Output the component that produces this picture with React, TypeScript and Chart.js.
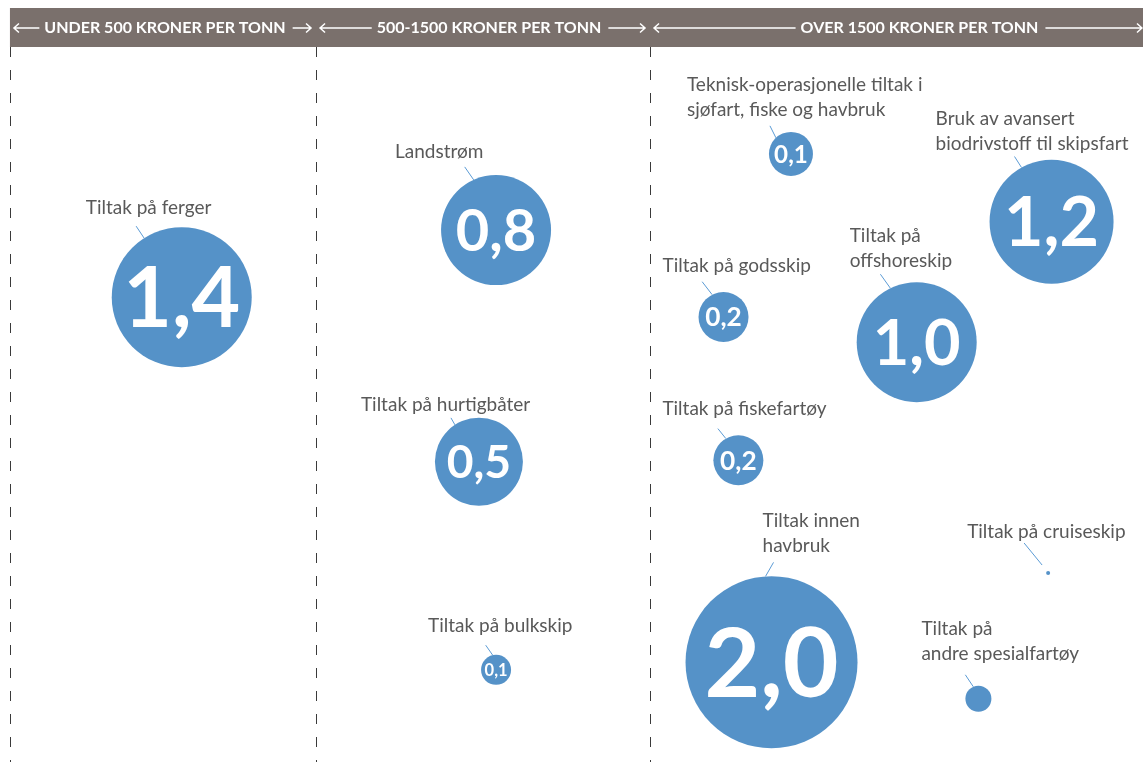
import React, { useEffect, useRef } from "react";
import { Chart, registerables } from "chart.js";

Chart.register(...registerables);

// ---------- data ----------
const measureLabels: string[][] = [
  ["Tiltak på ferger"],
  ["Landstrøm"],
  ["Tiltak på hurtigbåter"],
  ["Tiltak på bulkskip"],
  ["Teknisk-operasjonelle tiltak i", "sjøfart, fiske og havbruk"],
  ["Tiltak på godsskip"],
  ["Tiltak på fiskefartøy"],
  ["Tiltak innen", "havbruk"],
  ["Bruk av avansert", "biodrivstoff til skipsfart"],
  ["Tiltak på", "offshoreskip"],
  ["Tiltak på cruiseskip"],
  ["Tiltak på", "andre spesialfartøy"],
];
// emission reduction shown in each bubble (null = no figure shown)
const reductions: (number | null)[] = [1.4, 0.8, 0.5, 0.1, 0.1, 0.2, 0.2, 2.0, 1.2, 1.0, null, null];
// bubble position on the infographic grid (0-100 each way)
const posX = [15.9, 43.4, 41.9, 43.4, 69.2, 63.3, 64.6, 67.5, 92.0, 80.2, 91.7, 85.6];
const posY = [39.0, 30.2, 60.6, 87.9, 20.2, 41.6, 60.4, 86.9, 29.1, 44.9, 75.2, 91.7];
// bubble size as drawn
const bubbleSizes = [70, 55, 44, 15, 22, 25, 25, 86, 62, 60, 2, 13];
// cost bands
const bandEdges = [0.87, 27.65, 56.87, 100];
const bandLabels = ["UNDER 500 KRONER PER TONN", "500-1500 KRONER PER TONN", "OVER 1500 KRONER PER TONN"];

// ---------- layout / style ----------
const W = 1143;
const H = 762;
const BUBBLE = "#5592c8";
const HEADER = "#7a706c";
const TEXT = "#595959";
const LEADER = "#5b9bd5";
const FONT = "Lato, 'Open Sans', sans-serif";
const headerTextShift = [2, 6, 23];
// label anchor: [dx of left edge, dy of first baseline] relative to bubble centre
const labelOffset: [number, number][] = [
  [-96, -83], [-101, -72], [-118, -51], [-68, -38], [-104, -63], [-61, -45],
  [-76, -45], [-9, -135], [-116, -97], [-67, -100], [-81, -35], [-57, -64],
];
// leader: [angle on circle (deg), dx, dy to start, gap]
const leaders: [number, number, number, number][] = [
  [-122.5, -8, -12, 0], [-114, -9, -13, 0], [-123, -4, -7, 0], [-103, -7, -10, 0],
  [-133, -6, -12, 0], [-117, -10, -13, 0], [-120, -8, -10, 0], [-94, 8, -14, 0],
  [-119, -7, -11, 0], [-116, -10, -14, 0], [-127, -18, -22, 8], [-113, -8, -12, 0],
];
// relative size of the figure inside each bubble
const valueFontScale = [1.2, 1.05, 1.05, 1.1, 1.1, 1.05, 1.05, 1.12, 1.1, 1.05, 1, 1];

function arrowLine(ctx: CanvasRenderingContext2D, x1: number, x2: number, y: number, head: "left" | "right") {
  ctx.beginPath();
  ctx.moveTo(x1, y);
  ctx.lineTo(x2, y);
  const tip = head === "left" ? x1 : x2;
  const s = head === "left" ? 1 : -1;
  ctx.moveTo(tip + s * 5, y - 4.5);
  ctx.lineTo(tip, y);
  ctx.lineTo(tip + s * 5, y + 4.5);
  ctx.stroke();
}

const decor = {
  id: "decor",
  beforeDatasetsDraw(chart: any) {
    const ctx: CanvasRenderingContext2D = chart.ctx;
    const xs = chart.scales.x;
    const edges = bandEdges.map((e) => xs.getPixelForValue(e));
    const top = 8;
    const bottom = 47;
    ctx.save();
    // header band
    ctx.fillStyle = HEADER;
    ctx.fillRect(edges[0], top, W - edges[0], bottom - top);
    // dashed dividers
    ctx.strokeStyle = "#3a3a3a";
    ctx.lineWidth = 1;
    ctx.setLineDash([10, 13]);
    for (let i = 0; i < edges.length - 1; i++) {
      const x = Math.round(edges[i]) + 0.5;
      ctx.beginPath();
      ctx.moveTo(x, bottom);
      ctx.lineTo(x, H);
      ctx.stroke();
    }
    ctx.setLineDash([]);
    // header texts and arrows
    ctx.font = `bold 16px ${FONT}`;
    ctx.fillStyle = "#ffffff";
    ctx.strokeStyle = "#ffffff";
    ctx.lineWidth = 1.5;
    ctx.textBaseline = "middle";
    ctx.textAlign = "center";
    const yMid = 28;
    bandLabels.forEach((lab, i) => {
      const a = edges[i];
      const b = edges[i + 1];
      const cx = (a + b) / 2 + headerTextShift[i];
      const w = ctx.measureText(lab).width;
      ctx.fillText(lab, cx, yMid);
      arrowLine(ctx, a + 4, cx - w / 2 - 5, yMid, "left");
      arrowLine(ctx, cx + w / 2 + 7, i === bandLabels.length - 1 ? b - 1 : b - 5, yMid, "right");
    });
    ctx.restore();
  },
  afterDatasetsDraw(chart: any) {
    const ctx: CanvasRenderingContext2D = chart.ctx;
    const meta = chart.getDatasetMeta(0);
    ctx.save();
    meta.data.forEach((el: any, i: number) => {
      const cx = el.x;
      const cy = el.y;
      const r = bubbleSizes[i];
      // leader line
      const [ang, dx, dy, gap] = leaders[i];
      const rad = (ang * Math.PI) / 180;
      const ex = cx + Math.cos(rad) * (r + gap);
      const ey = cy + Math.sin(rad) * (r + gap);
      ctx.strokeStyle = LEADER;
      ctx.lineWidth = 1;
      ctx.beginPath();
      ctx.moveTo(ex + dx, ey + dy);
      ctx.lineTo(ex, ey);
      ctx.stroke();
      // label
      ctx.fillStyle = TEXT;
      ctx.font = `19px ${FONT}`;
      ctx.textAlign = "left";
      ctx.textBaseline = "alphabetic";
      const [lx, ly] = labelOffset[i];
      measureLabels[i].forEach((line, k) => {
        ctx.fillText(line, cx + lx, cy + ly + k * 25);
      });
      // value in bubble
      const v = reductions[i];
      if (v !== null) {
        const fs = r * valueFontScale[i];
        ctx.font = `bold ${fs}px ${FONT}`;
        ctx.fillStyle = "#ffffff";
        ctx.textAlign = "center";
        ctx.fillText(v.toFixed(1).replace(".", ","), cx, cy + fs * 0.36);
      }
    });
    ctx.restore();
  },
};

export default function App() {
  const ref = useRef<HTMLCanvasElement>(null);
  useEffect(() => {
    document.body.style.margin = "0";
    const canvas = ref.current;
    if (!canvas) return;
    const data = posX.map((x, i) => ({ x, y: posY[i], r: bubbleSizes[i] }));
    const chart = new Chart(canvas, {
      type: "bubble",
      data: {
        datasets: [
          {
            data,
            backgroundColor: BUBBLE,
            borderWidth: 0,
            hoverBorderWidth: 0,
            clip: false as any,
          },
        ],
      },
      options: {
        animation: false,
        responsive: false,
        maintainAspectRatio: false,
        events: [],
        layout: { padding: 0, autoPadding: false },
        scales: {
          x: { type: "linear", min: 0, max: 100, display: false },
          y: { type: "linear", min: 0, max: 100, reverse: true, display: false },
        },
        plugins: { legend: { display: false }, tooltip: { enabled: false } },
      },
      plugins: [decor as any],
    });
    return () => chart.destroy();
  }, []);
  return <canvas ref={ref} width={W} height={H} style={{ display: "block" }} />;
}
